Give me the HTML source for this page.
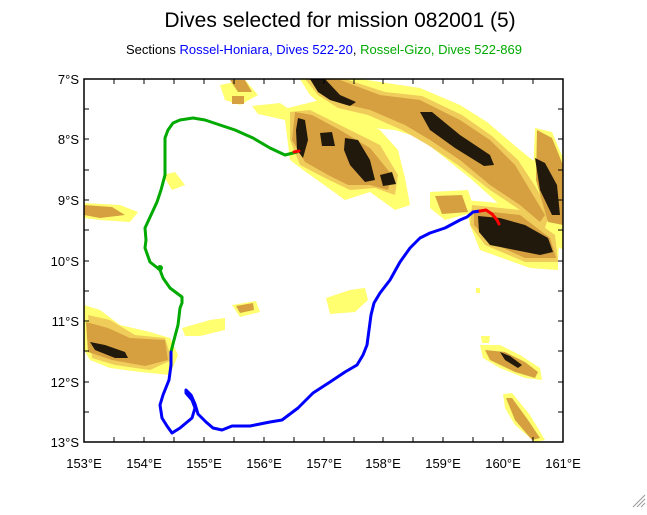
<!DOCTYPE html>
<html><head><meta charset="utf-8"><style>
body{margin:0;background:#fff;width:647px;height:510px;overflow:hidden;font-family:"Liberation Sans",sans-serif}
</style></head><body>
<svg width="647" height="510" viewBox="0 0 647 510" xmlns="http://www.w3.org/2000/svg" font-family="Liberation Sans, sans-serif">
<text x="340" y="27" font-size="21" text-anchor="middle" fill="#000">Dives selected for mission 082001 (5)</text>
<text x="324" y="54" font-size="13" text-anchor="middle" fill="#000">Sections <tspan fill="#0000ff">Rossel-Honiara, Dives 522-20</tspan>, <tspan fill="#00aa00">Rossel-Gizo, Dives 522-869</tspan></text>
<defs><clipPath id="c"><rect x="84" y="79" width="479" height="363"/></clipPath></defs>
<g clip-path="url(#c)">
<!-- yellow layer -->
<g fill="#ffff70">
<polygon points="300,79 360,79 400,85 420,88 460,105 487,122 520,150 545,170 555,200 560,230 558,262 540,264 520,232 500,205 470,178 445,158 420,138 395,130 360,127 330,112 310,95"/>
<polygon points="288,108 320,100 350,118 380,130 398,150 405,178 410,205 395,210 370,192 345,200 320,182 303,170 290,160 285,120"/>
<polygon points="320,95 360,100 400,115 420,130 395,130 355,122 330,112"/>
<polygon points="220,85 245,80 258,95 240,105 225,100"/>
<polygon points="252,106 280,103 298,115 285,120 258,114"/>
<polygon points="430,192 468,190 475,212 445,220 430,208"/>
<polygon points="465,200 520,205 558,230 558,270 530,268 480,250 470,225"/>
<polygon points="535,128 552,132 563,158 563,250 548,240 533,175"/>
<polygon points="84,203 120,205 138,212 130,222 100,220 84,218"/>
<polygon points="84,305 100,310 120,325 150,332 170,338 178,355 170,375 140,372 110,368 90,360 84,350"/>
<polygon points="182,328 210,320 225,318 225,330 200,336 185,336"/>
<polygon points="232,305 256,301 260,312 240,317"/>
<polygon points="326,298 350,290 365,288 368,300 355,312 330,314"/>
<polygon points="480,345 500,345 520,355 540,368 542,380 525,378 500,368 483,358"/>
<polygon points="503,394 512,393 530,415 545,440 535,442 515,425 505,408"/>
<polygon points="481,336 490,336 489,343 482,343"/>
<polygon points="476,288 480,288 480,293 476,293"/>
<polygon points="163,175 175,172 185,185 172,190"/>
</g>
<!-- light orange -->
<g fill="#f0cc5a">
<polygon points="305,79 345,79 385,92 422,96 462,115 492,136 518,160 535,186 550,212 545,228 520,210 490,190 458,165 428,145 402,130 368,115 338,108 318,95"/>
<polygon points="290,112 310,110 340,125 380,145 398,175 395,195 375,188 350,190 325,178 300,165 290,140"/>
<polygon points="472,205 520,210 555,235 558,262 525,262 485,245 470,225"/>
<polygon points="88,315 110,320 135,335 165,338 172,360 150,370 115,365 92,358"/>
</g>
<!-- tan -->
<g fill="#d6a040">
<polygon points="310,79 340,80 380,95 420,100 460,120 490,140 515,165 530,190 545,215 540,222 520,205 490,185 460,160 430,140 405,125 370,110 340,103 320,92"/>
<polygon points="295,112 312,115 340,130 370,148 392,175 388,190 370,185 348,185 328,175 305,162 292,140"/>
<polygon points="474,210 520,215 550,238 556,258 525,258 490,242 474,225"/>
<polygon points="86,322 108,328 130,338 165,340 168,360 145,366 112,360 88,352"/>
<polygon points="537,130 552,138 563,165 563,225 548,222 536,180"/>
<polygon points="435,196 462,195 468,212 442,214"/>
<polygon points="84,205 112,207 125,215 100,218 84,215"/>
<polygon points="485,350 505,352 525,362 538,372 535,378 515,372 490,360"/>
<polygon points="506,398 512,398 528,420 540,438 532,440 515,420"/>
<polygon points="236,306 253,303 254,310 240,313"/>
<polygon points="230,80 245,80 252,92 238,92"/>
<polygon points="232,96 244,96 244,104 232,104"/>
</g>
<!-- dark -->
<g fill="#21190b">
<polygon points="310,79 325,79 340,95 356,102 350,106 330,100 318,92"/>
<polygon points="420,112 432,112 460,135 490,155 494,165 484,166 455,148 430,130"/>
<polygon points="298,118 305,120 308,140 303,158 297,150 296,130"/>
<polygon points="320,133 332,132 335,146 322,146"/>
<polygon points="345,138 358,140 370,160 375,180 365,182 350,165 344,150"/>
<polygon points="380,175 392,172 396,184 383,186"/>
<polygon points="535,158 545,163 557,185 560,215 552,215 540,190"/>
<polygon points="478,216 500,218 525,225 548,238 553,252 540,255 515,250 490,245 479,232"/>
<polygon points="90,342 105,345 125,352 128,358 115,358 95,350"/>
<polygon points="500,352 510,356 522,365 518,368 505,360"/>
</g>
<!-- tracks -->
<g fill="none" stroke-width="3" stroke-linejoin="round" stroke-linecap="round">
<polyline stroke="#00aa00" points="297,152 285,155 270,148 253,138 235,130 220,125 205,120 193,118 180,120 173,123 168,130 165,138 165,160 165,175 161,190 157,202 151,215 145,228 146,240 145,248 150,262 160,270 163,278 170,288 182,297 182,303 180,308 178,325 174,340 171,352"/>
<polyline stroke="#0000ff" points="171,352 171,365 169,380 163,395 160,405 162,418 167,426 172,433 180,428 192,418 195,408 192,400 186,393 186,390 191,395 195,404 198,414 206,422 213,428 222,430 232,426 250,426 270,422 282,420 298,408 313,393 330,382 345,372 357,365 363,355 367,345 369,330 371,315 374,303 380,293 390,280 400,262 410,248 420,238 430,233 445,228 460,220 467,217 473,212 480,211"/>
<polyline stroke="#ff0000" points="480,211 486,210 492,214 497,220 499,224"/>
<polyline stroke="#ff0000" points="294,152 299,151"/>
</g>
<circle cx="160" cy="268" r="3" fill="#00aa00"/>
</g>
<rect x="84" y="79" width="479" height="363" fill="none" stroke="#000" stroke-width="1.5"/>
<g stroke="#000" stroke-width="1">
<path d="M114,79v5M144,79v5M174,79v5M204,79v5M234,79v5M264,79v5M294,79v5M324,79v5M354,79v5M383,79v5M413,79v5M443,79v5M473,79v5M503,79v5M533,79v5
M114,442v-5M144,442v-5M174,442v-5M204,442v-5M234,442v-5M264,442v-5M294,442v-5M324,442v-5M354,442v-5M383,442v-5M413,442v-5M443,442v-5M473,442v-5M503,442v-5M533,442v-5
M84,109h5M84,139h5M84,170h5M84,200h5M84,230h5M84,261h5M84,291h5M84,321h5M84,351h5M84,382h5M84,412h5
M563,109h-5M563,139h-5M563,170h-5M563,200h-5M563,230h-5M563,261h-5M563,291h-5M563,321h-5M563,351h-5M563,382h-5M563,412h-5"/>
</g>
<g font-size="13" fill="#000" text-anchor="end">
<text x="79" y="84">7°S</text><text x="79" y="144">8°S</text><text x="79" y="205">9°S</text>
<text x="79" y="266">10°S</text><text x="79" y="326">11°S</text><text x="79" y="387">12°S</text><text x="79" y="447">13°S</text>
</g>
<g font-size="13" fill="#000" text-anchor="middle">
<text x="84" y="468">153°E</text><text x="144" y="468">154°E</text><text x="204" y="468">155°E</text><text x="264" y="468">156°E</text>
<text x="324" y="468">157°E</text><text x="383" y="468">158°E</text><text x="443" y="468">159°E</text><text x="503" y="468">160°E</text><text x="563" y="468">161°E</text>
</g>
<g stroke="#999" stroke-width="1"><path d="M633,507L645,495M637,507L645,499M641,507L645,503"/></g>
</svg>
</body></html>
